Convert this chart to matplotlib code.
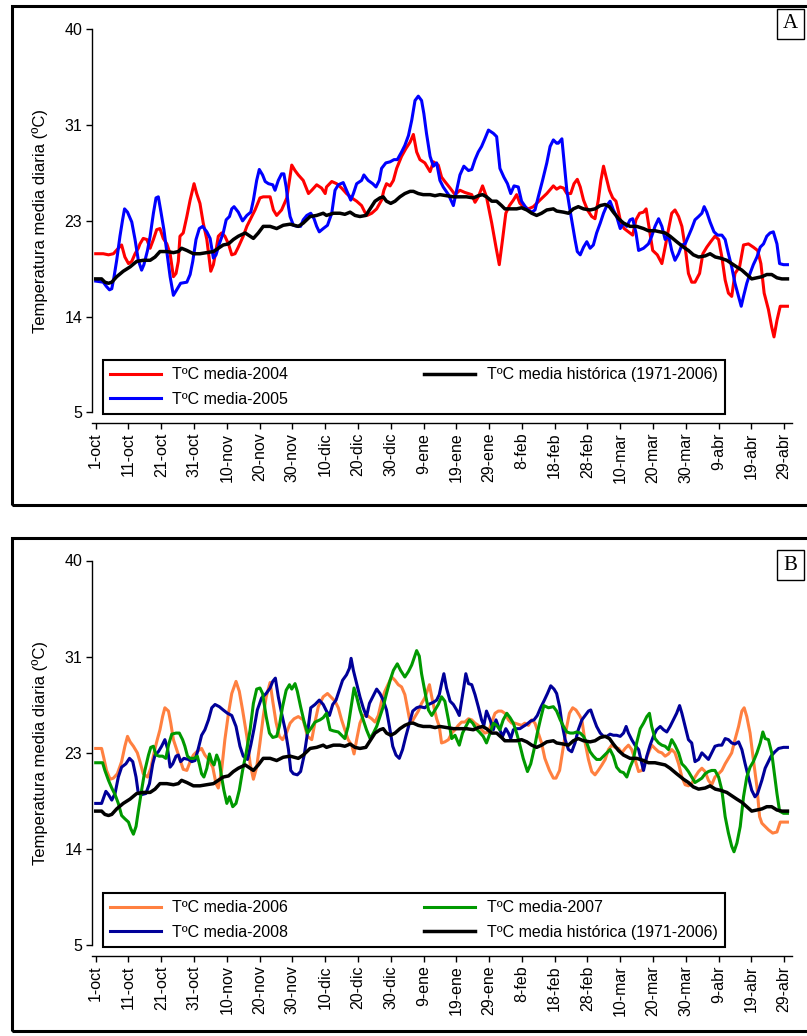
import numpy as np
import matplotlib.pyplot as plt
from matplotlib.patches import Rectangle

plt.rcParams['font.family'] = ['Liberation Sans', 'DejaVu Sans']

# dia 0 = 1-oct ... dia 210 = 29-abr
tick_dias = list(range(0, 211, 10))
tick_labels = ['1-oct', '11-oct', '21-oct', '31-oct', '10-nov', '20-nov', '30-nov',
               '10-dic', '20-dic', '30-dic', '9-ene', '19-ene', '29-ene', '8-feb',
               '18-feb', '28-feb', '10-mar', '20-mar', '30-mar', '9-abr', '19-abr', '29-abr']
ytick_vals = [5, 13.75, 22.5, 31.25, 40]
ytick_labels = ['5', '14', '23', '31', '40']

# media historica (1971-2006)
dias_hist = [0, 1.8, 2.8, 3.9, 4.9, 6.4, 8.4, 10.5, 12.5, 14.5, 16.6, 18.1, 19.6, 21.7, 23.7, 25.2, 26.2,
             27.8, 29.8, 31.8, 33.9, 35.9, 37.4, 38.9, 40.5, 42.0, 43.5, 45.6, 47.1, 48.1, 49.6, 51.1,
             53.2, 55.2, 57.2, 59.3, 61.8, 63.3, 65.4, 67.4, 69.4, 70.4, 72.5, 74.5, 76.0, 77.6, 79.1,
             80.6, 82.4, 83.7, 85.2, 86.7, 87.7, 88.7, 90.0, 91.3, 92.8, 94.3, 95.9, 96.9, 98.4, 99.9,
             102.0, 103.5, 105.0, 107.0, 109.1, 111.1, 113.1, 115.2, 116.7, 118.0, 119.2, 120.8, 122.3,
             123.8, 124.8, 126.4, 128.4, 129.9, 131.5, 133.0, 134.5, 136.0, 137.6, 139.6, 140.6, 142.7,
             144.2, 145.7, 147.2, 148.8, 150.8, 152.3, 153.9, 155.4, 156.7, 157.9, 159.5, 161.0, 163.0,
             165.0, 167.1, 168.6, 170.6, 172.2, 173.7, 175.2, 177.2, 179.3, 180.8, 182.3, 183.9, 185.9,
             187.4, 189.0, 190.5, 192.5, 194.0, 195.5, 197.1, 198.6, 200.1, 201.7, 203.2, 204.7, 206.2,
             207.8, 209.3, 211.0]
temp_hist = [17.2, 17.2, 16.9, 16.8, 16.9, 17.4, 17.9, 18.3, 18.8, 18.9, 18.9, 19.2, 19.7, 19.7, 19.6, 19.7, 20.0,
             19.8, 19.5, 19.5, 19.6, 19.7, 20.0, 20.3, 20.4, 20.8, 21.1, 21.4, 21.1, 20.9, 21.4, 22.0,
             22.0, 21.8, 22.1, 22.2, 22.0, 22.3, 22.9, 23.0, 23.2, 23.0, 23.2, 23.2, 23.1, 23.3, 23.0,
             22.9, 23.0, 23.6, 24.3, 24.6, 24.7, 24.3, 24.1, 24.3, 24.7, 25.0, 25.2, 25.2, 25.0, 24.9,
             24.9, 24.8, 24.9, 24.8, 24.7, 24.7, 24.7, 24.6, 24.8, 24.9, 24.7, 24.3, 24.3,
             23.9, 23.6, 23.6, 23.6, 23.7, 23.5, 23.2, 23.0, 23.2, 23.5, 23.6, 23.4, 23.3,
             23.2, 23.6, 23.8, 23.6, 23.5, 23.6, 23.9, 24.0, 23.8, 23.3, 22.7, 22.3, 22.0,
             22.0, 21.8, 21.6, 21.6, 21.5, 21.4, 21.1, 20.6, 20.1, 19.8, 19.4, 19.2, 19.3,
             19.5, 19.2, 19.1, 18.9, 18.6, 18.3, 18.0, 17.6, 17.2, 17.3, 17.4, 17.6, 17.6,
             17.3, 17.2, 17.2]

dias_2004 = [0, 2.3, 3.9, 5.4, 6.9, 7.9, 8.9, 10.0, 11.0, 12.0, 13.0, 13.5, 14.5, 15.6, 16.6, 17.6, 18.6,
             19.6, 20.6, 21.7, 22.7, 23.7, 24.5, 25.2, 25.7, 26.7, 27.8, 28.8, 30.0, 30.8, 31.8, 32.8,
             33.9, 35.1, 35.9, 36.7, 37.4, 38.4, 39.4, 40.5, 41.5, 42.5, 43.5, 45.0, 46.1, 47.1, 48.6,
             50.1, 51.1, 53.2, 54.2, 55.2, 56.7, 58.3, 59.1, 59.8, 60.8, 61.8, 63.3, 64.9, 65.9, 67.4,
             68.9, 70.0, 70.4, 72.0, 73.5, 75.0, 76.5, 78.1, 79.6, 81.1, 82.1, 82.8, 84.2, 85.7, 87.2,
             87.9, 88.7, 89.8, 90.8, 91.8, 93.3, 94.6, 95.9, 96.9, 97.9, 98.9, 100.4, 102.0, 103.0,
             104.5, 105.5, 106.5, 108.1, 109.6, 111.1, 112.6, 113.7, 114.7, 115.7, 116.7, 118.0, 119.2,
             120.8, 122.1, 123.1, 124.1, 125.1, 126.2, 127.4, 128.4, 129.4, 130.6, 132.0, 133.5, 135.5,
             137.6, 139.6, 140.6, 141.7, 142.7, 143.7, 144.9, 145.9, 146.9, 147.8, 148.8, 150.0, 151.3,
             152.3, 153.3, 154.1, 154.9, 155.7, 156.7, 157.7, 158.7, 159.5, 160.2, 161.2, 162.5, 163.8,
             164.8, 165.9, 167.1, 167.9, 168.9, 169.9, 171.3, 172.7, 173.7, 174.7, 175.7, 176.7, 177.8,
             178.8, 179.8, 180.8, 181.8, 182.8, 184.2, 185.2, 186.4, 187.6, 188.9, 190.0, 191.0, 192.0,
             193.0, 194.0, 195.0, 196.4, 197.6, 199.1, 200.6, 201.9, 202.9, 203.9, 205.2, 206.2, 206.9,
             207.8, 208.8, 209.8, 211.0]
temp_2004 = [19.5, 19.5, 19.4, 19.5, 20.0, 20.3, 19.2, 18.6, 18.8, 19.5, 20.0, 20.4, 20.9, 20.8, 20.0, 20.8, 21.7,
             21.8, 20.9, 20.4, 19.5, 17.4, 17.7, 18.8, 21.1, 21.4, 22.9, 24.4, 25.9, 25.0, 24.1, 22.3,
             20.8, 17.9, 18.5, 19.8, 21.1, 21.4, 21.1, 20.4, 19.4, 19.5, 20.1, 21.1, 22.0, 22.6, 23.5,
             24.6, 24.7, 24.7, 23.5, 23.0, 23.5, 24.6, 26.2, 27.6, 27.1, 26.7, 26.2, 25.0, 25.3, 25.8,
             25.5, 25.0, 25.6, 26.1, 25.9, 25.5, 25.0, 24.6, 24.3, 23.9, 23.3, 23.0, 23.2, 23.6, 24.4,
             25.3, 25.9, 25.7, 26.2, 27.3, 28.4, 29.1, 29.7, 30.4, 28.8, 28.1, 27.8, 27.0, 27.9,
             27.6, 26.5, 26.1, 25.5, 24.9, 25.3, 25.1, 25.0, 24.9, 24.2, 24.7, 25.7, 24.7,
             22.3, 20.1, 18.5, 20.8, 23.2, 23.9, 24.4, 24.9, 24.1, 23.8, 23.6, 23.8, 24.4,
             25.0, 25.7, 25.4, 25.6, 25.5, 25.0, 25.0, 25.9, 26.3, 25.6, 24.4, 23.5, 22.9,
             22.7, 24.4, 26.2, 27.5, 26.5, 25.3, 24.6, 24.3, 23.3, 22.3, 21.8, 21.5, 21.2,
             22.6, 23.2, 23.3, 23.6, 21.7, 19.8, 19.4, 18.6, 20.1, 21.7, 23.2, 23.5, 22.9,
             22.0, 20.1, 17.7, 16.9, 16.9, 17.7, 19.5, 20.1, 20.6, 21.1, 20.8, 19.2, 17.1,
             15.9, 15.6, 17.7, 18.3, 20.3, 20.4, 20.1, 19.8, 18.6, 15.9, 14.4, 12.8, 11.9,
             13.4, 14.7, 14.7, 14.7]

dias_2005 = [0, 2.3, 3.3, 4.2, 4.9, 5.6, 6.4, 7.4, 8.2, 8.8, 9.7, 11.0, 12.0, 13.0, 14.0, 14.7, 15.8, 16.6,
             17.6, 18.4, 19.1, 19.8, 20.8, 21.9, 22.7, 23.7, 24.7, 25.9, 27.8, 28.8, 29.6, 30.6, 31.6,
             32.6, 33.9, 34.9, 35.9, 36.7, 37.7, 38.9, 39.8, 40.8, 41.5, 42.2, 43.5, 44.8, 46.1, 47.3,
             48.1, 49.1, 49.9, 50.9, 51.7, 52.7, 54.0, 54.7, 55.7, 56.7, 57.4, 58.1, 58.8, 59.3, 60.3,
             61.5, 62.5, 63.3, 64.4, 65.6, 66.6, 67.4, 68.2, 69.4, 70.7, 72.0, 73.0, 74.0, 75.5, 76.5,
             77.8, 78.6, 79.6, 81.1, 81.8, 83.1, 84.5, 85.5, 86.5, 87.2, 88.5, 89.8, 91.0, 92.0, 93.3,
             94.3, 95.4, 96.4, 97.4, 98.4, 99.4, 100.1, 100.9, 102.0, 103.0, 104.0, 105.0, 106.0, 107.6,
             109.1, 110.1, 111.1, 112.3, 113.7, 114.7, 115.7, 116.7, 117.7, 118.7, 119.8, 121.3, 122.3,
             123.3, 124.5, 125.6, 126.6, 127.6, 128.9, 129.9, 131.5, 133.0, 134.0, 135.0, 136.3, 137.6,
             138.6, 139.6, 140.6, 141.1, 142.2, 142.9, 143.7, 144.5, 145.5, 146.2, 146.9, 147.8, 148.8,
             149.8, 150.8, 151.8, 152.8, 153.9, 154.9, 155.9, 156.9, 157.9, 158.9, 160.0, 161.0, 162.0,
             163.0, 163.8, 164.8, 165.6, 167.1, 168.6, 169.6, 170.6, 171.7, 172.7, 173.7, 174.7, 175.7,
             176.7, 177.8, 178.8, 179.8, 180.8, 181.8, 182.8, 183.9, 184.9, 185.6, 186.4, 187.4, 188.6,
             189.7, 191.0, 192.0, 193.0, 194.0, 195.0, 196.1, 196.9, 197.6, 198.6, 199.6, 200.6, 201.7,
             202.7, 203.7, 204.7, 205.7, 206.7, 207.8, 208.6, 209.8, 211.0]
temp_2005 = [17.0, 16.9, 16.5, 16.2, 16.3, 17.4, 18.9, 21.1, 22.6, 23.6, 23.3, 22.4, 20.8, 18.9, 18.0, 18.5, 19.8, 21.1,
             23.2, 24.6, 24.7, 23.5, 21.7, 19.2, 17.4, 15.7, 16.2, 16.8, 16.9, 17.6, 18.8, 20.8, 21.8,
             22.0, 21.5, 20.9, 19.1, 19.4, 20.4, 21.4, 22.6, 22.9, 23.6, 23.8, 23.3, 22.5, 23.0, 23.3,
             24.4, 26.2, 27.2, 26.7, 26.1, 25.9, 25.8, 25.3, 26.2, 26.8, 26.8, 25.6, 23.8, 22.9, 22.1,
             22.0, 22.0, 22.6, 23.0, 23.2, 22.7, 22.0, 21.5, 21.8, 22.1, 23.2, 25.3, 25.8, 26.0, 25.3,
             24.4, 25.0, 25.9, 26.2, 26.7, 26.2, 25.9, 25.6, 26.2, 27.3, 27.8, 27.9, 28.1, 28.1, 28.8,
             29.4, 30.3, 31.7, 33.5, 33.9, 33.5, 32.3, 30.5, 28.4, 27.5, 27.8, 26.2, 25.6, 24.9,
             23.9, 25.3, 26.7, 27.5, 27.1, 27.2, 28.1, 28.8, 29.3, 30.0, 30.8, 30.5, 30.2,
             27.3, 26.5, 25.9, 25.0, 25.7, 25.6, 24.3, 23.6, 23.3, 23.5, 24.7, 26.2, 27.8,
             29.3, 29.9, 29.6, 29.6, 30.0, 27.8, 25.3, 23.8, 22.0, 20.8, 19.7, 19.4, 20.1,
             20.6, 20.0, 20.3, 21.4, 22.3, 23.2, 23.9, 24.3, 23.5, 22.9, 21.8, 22.3, 22.0,
             22.6, 22.7, 21.4, 19.8, 20.0, 20.4, 21.1, 22.0, 22.7, 22.0, 20.8, 21.2, 19.8,
             18.9, 19.5, 20.3, 20.4, 21.1, 21.8, 22.6, 22.9, 23.2, 23.8, 23.3, 22.4, 21.5,
             21.2, 21.2, 20.8, 19.5, 18.3, 16.8, 15.6, 14.7, 15.6, 16.8, 17.7, 18.5, 19.2,
             20.1, 20.4, 21.1, 21.4, 21.5, 20.4, 18.6, 18.5, 18.5]

dias_2006 = [0, 1.8, 2.5, 3.3, 4.4, 5.4, 6.6, 7.9, 8.9, 9.7, 10.5, 11.5, 12.7, 13.5, 14.5, 15.8, 16.8, 17.8,
             18.6, 19.6, 20.4, 21.1, 22.2, 22.9, 23.7, 24.7, 25.7, 26.7, 27.8, 28.8, 29.8, 30.8, 32.3,
             33.3, 34.4, 35.7, 36.7, 37.4, 38.4, 39.4, 40.5, 41.5, 42.8, 43.8, 44.8, 46.1, 47.1, 48.1,
             49.1, 50.1, 51.1, 52.0, 53.2, 54.0, 55.0, 56.0, 57.0, 58.3, 59.3, 60.5, 61.8, 63.3, 64.6,
             65.9, 66.9, 67.9, 69.4, 70.7, 72.0, 73.0, 74.0, 75.0, 76.0, 77.0, 78.1, 78.8, 79.6, 80.6,
             81.6, 82.8, 84.2, 85.2, 86.2, 87.2, 88.2, 89.3, 90.3, 91.3, 92.3, 93.3, 94.3, 95.0, 95.7,
             96.4, 97.4, 98.4, 99.4, 100.4, 101.1, 101.8, 102.5, 103.2, 104.0, 104.8, 105.5, 106.5,
             107.6, 108.6, 109.6, 110.6, 111.6, 112.6, 113.7, 114.7, 115.7, 116.7, 117.7, 118.7, 119.8,
             120.8, 121.8, 122.8, 123.8, 124.8, 125.9, 126.9, 127.9, 128.9, 129.9, 130.9, 132.0, 133.0,
             134.0, 135.0, 136.0, 137.0, 138.4, 139.6, 140.4, 141.5, 142.5, 143.5, 144.5, 145.5, 146.5,
             147.6, 148.3, 149.3, 150.3, 151.3, 152.3, 153.3, 154.4, 155.4, 156.4, 157.4, 158.4, 159.5,
             160.5, 161.5, 162.5, 163.5, 164.5, 165.6, 166.6, 167.6, 168.6, 169.6, 170.6, 171.7, 172.7,
             173.7, 174.7, 175.7, 176.7, 177.8, 178.8, 179.8, 180.8, 181.8, 182.8, 183.9, 184.9, 185.9,
             186.9, 187.9, 188.9, 190.0, 191.0, 192.0, 193.0, 194.0, 195.0, 196.1, 197.1, 197.8, 198.6,
             199.6, 200.6, 201.7, 202.5, 203.2, 204.2, 205.2, 206.5, 207.8, 208.8, 209.8, 211.0]
temp_2006 = [22.9, 22.9, 22.0, 20.9, 20.1, 20.2, 20.6, 21.7, 23.1, 24.0, 23.5, 23.1, 22.5, 21.7, 20.6, 20.3, 21.1, 22.5,
             23.5, 24.6, 25.8, 26.6, 26.3, 25.2, 23.7, 22.8, 21.9, 21.0, 20.9, 21.7, 22.3, 22.6, 22.9,
             22.3, 21.9, 21.2, 19.7, 19.3, 20.9, 23.7, 26.1, 27.9, 29.0, 28.1, 26.4, 24.0, 21.5, 20.1,
             21.2, 23.4, 25.8, 27.6, 28.9, 27.2, 25.3, 24.0, 23.7, 24.4, 25.2, 25.6, 25.8, 25.5, 24.0,
             23.7, 25.3, 26.7, 27.6, 27.9, 27.5, 27.2, 26.6, 25.5, 24.6, 23.7, 23.2, 22.4, 23.7, 25.2,
             25.9, 25.9, 25.6, 25.3, 25.9, 27.2, 28.1, 28.8, 29.4, 29.1, 28.7, 28.5, 27.8, 26.7, 25.6,
             25.3, 25.8, 26.3, 27.0, 27.5, 28.1, 28.7, 27.6, 26.6, 25.6, 24.9, 23.4, 23.5,
             23.7, 24.3, 24.6, 25.0, 25.3, 25.3, 25.6, 25.5, 25.2, 25.0, 24.6, 24.3, 24.4,
             25.3, 26.1, 26.3, 26.3, 26.1, 25.5, 25.2, 25.2, 25.1, 25.0, 25.2, 25.0, 25.5,
             25.2, 24.3, 23.4, 22.0, 20.9, 20.2, 20.2, 20.9, 22.8, 24.6, 26.1, 26.6, 26.4,
             25.9, 25.5, 23.4, 21.9, 20.8, 20.5, 20.9, 21.4, 21.9, 22.8, 23.2, 23.0, 22.9,
             22.5, 22.9, 23.2, 22.8, 21.9, 20.8, 20.9, 21.7, 22.5, 23.2, 22.9, 22.6, 22.5,
             22.2, 22.4, 22.8, 22.5, 21.5, 20.3, 19.6, 19.5, 19.7, 20.3, 20.8, 21.1, 20.8,
             20.0, 19.6, 20.3, 20.6, 20.9, 21.5, 22.0, 22.5, 23.7, 24.9, 26.3, 26.6, 25.8,
             24.3, 21.9, 19.4, 16.7, 16.1, 15.8, 15.5, 15.2, 15.3, 16.2, 16.2, 16.2]

dias_2007 = [0, 2.1, 2.8, 3.9, 4.9, 5.9, 6.9, 7.9, 8.9, 10.0, 10.7, 11.5, 12.3, 13.0, 14.0, 15.0, 16.1, 16.8,
             17.6, 18.4, 19.4, 20.4, 21.4, 22.2, 23.2, 24.5, 25.5, 26.5, 27.2, 28.0, 28.8, 30.0, 31.0,
             31.6, 32.3, 33.0, 33.9, 34.7, 35.4, 36.1, 36.9, 37.7, 38.4, 39.1, 40.0, 40.8, 41.8, 42.8,
             43.8, 44.8, 45.9, 47.1, 48.1, 49.1, 50.1, 50.9, 52.0, 53.0, 54.0, 55.2, 56.0, 57.0, 58.1,
             59.1, 59.8, 60.8, 61.5, 62.5, 63.6, 64.6, 65.6, 66.9, 68.4, 69.4, 70.4, 71.5, 72.5, 74.0,
             75.0, 76.0, 77.0, 78.1, 78.8, 79.6, 80.6, 81.6, 82.6, 83.7, 84.7, 85.7, 86.7, 87.7, 88.7,
             89.8, 90.8, 92.0, 93.0, 94.3, 95.4, 96.4, 97.1, 97.9, 98.7, 99.4, 100.4, 101.5, 102.5,
             103.5, 104.5, 105.5, 106.5, 107.6, 108.6, 109.6, 110.9, 111.9, 112.9, 114.0, 115.0, 116.0,
             117.0, 118.2, 119.2, 120.3, 121.3, 122.3, 123.3, 124.3, 125.4, 126.4, 127.4, 128.4, 129.4,
             130.4, 131.7, 132.7, 133.7, 134.7, 135.7, 136.7, 138.1, 139.6, 140.6, 141.7, 142.7, 143.7,
             144.7, 145.7, 146.7, 147.8, 148.8, 149.8, 150.8, 151.8, 152.8, 153.9, 154.9, 155.9, 156.9,
             157.9, 158.9, 160.0, 161.0, 162.0, 163.0, 164.0, 165.0, 166.1, 167.1, 168.1, 168.9, 169.6,
             170.6, 171.7, 172.7, 173.7, 174.7, 175.7, 176.7, 177.8, 178.8, 179.8, 180.8, 181.8, 182.8,
             183.9, 184.9, 185.9, 186.9, 187.9, 188.9, 190.0, 191.0, 192.0, 193.0, 194.0, 194.7, 195.6,
             196.6, 197.6, 198.6, 199.6, 200.6, 201.7, 202.7, 203.5, 204.2, 205.2, 206.2, 206.9, 207.8,
             208.6, 209.8, 211.0]
temp_2007 = [21.6, 21.6, 20.9, 20.0, 19.3, 18.7, 17.9, 16.8, 16.5, 16.2, 15.6, 15.1, 15.8, 17.2, 19.1, 20.9, 22.3, 23.0,
             23.1, 22.3, 22.2, 22.2, 22.0, 23.2, 24.2, 24.3, 24.3, 23.7, 23.1, 22.2, 22.0, 22.0, 22.2,
             21.5, 20.6, 20.3, 21.1, 22.4, 21.7, 21.4, 22.3, 21.7, 20.3, 19.1, 17.9, 18.5, 17.6, 17.9,
             19.1, 20.9, 22.5, 24.6, 27.0, 28.3, 28.4, 27.9, 25.8, 24.3, 23.9, 24.0, 24.9, 26.7, 28.2,
             28.7, 28.3, 28.8, 28.1, 26.7, 25.3, 24.3, 24.7, 25.3, 25.5, 25.7, 26.1, 24.6, 24.5, 24.4,
             24.1, 23.8, 24.9, 27.0, 28.4, 27.6, 26.4, 25.5, 24.6, 23.8, 24.3, 24.9, 25.8, 26.7, 27.9,
             29.1, 30.0, 30.6, 30.0, 29.4, 29.9, 30.5, 31.1, 31.8, 31.3, 29.7, 28.1, 26.4, 25.9,
             26.4, 26.9, 27.6, 27.2, 25.5, 23.8, 24.1, 23.2, 24.3, 24.9, 25.5, 25.2, 24.7,
             24.4, 24.0, 23.4, 24.3, 25.2, 25.0, 24.6, 25.5, 26.1, 25.7, 25.2, 24.3, 23.2,
             22.0, 20.8, 21.5, 22.8, 24.3, 25.6, 26.8, 26.6, 26.7, 26.3, 25.5, 24.9, 24.4,
             24.3, 24.3, 24.4, 24.3, 24.0, 23.4, 22.6, 22.2, 21.9, 21.9, 22.2, 22.5, 22.8,
             22.2, 21.2, 20.8, 20.7, 20.3, 21.2, 21.9, 23.4, 24.7, 25.2, 25.8, 26.1, 24.9,
             23.8, 23.4, 23.2, 23.1, 22.8, 23.7, 23.2, 22.5, 21.5, 21.2, 20.8, 20.3, 19.8,
             20.0, 20.2, 20.6, 20.8, 20.9, 20.9, 20.3, 19.1, 16.7, 15.2, 14.0, 13.5, 14.3,
             15.8, 18.5, 20.3, 21.2, 21.7, 22.5, 23.4, 24.4, 23.8, 23.7, 22.5, 20.9, 18.8,
             17.2, 17.0, 17.0]

dias_2008 = [0, 1.8, 2.5, 3.1, 3.9, 4.9, 5.9, 6.9, 7.9, 9.2, 10.3, 11.3, 12.3, 13.0, 14.0, 15.3, 16.4, 17.4,
             18.1, 19.1, 20.1, 21.1, 21.9, 22.7, 23.5, 24.5, 25.2, 25.9, 26.9, 28.3, 29.3, 30.3, 31.3,
             32.3, 33.3, 34.4, 35.4, 36.4, 37.7, 38.9, 40.2, 41.5, 42.8, 44.0, 45.0, 46.3, 47.3, 48.3,
             49.3, 50.6, 52.0, 53.2, 54.0, 54.8, 55.7, 56.7, 57.8, 58.8, 59.5, 60.3, 61.5, 62.5, 63.6,
             64.6, 65.6, 66.9, 68.2, 69.4, 70.4, 71.3, 72.3, 73.3, 74.3, 75.3, 76.5, 77.4, 77.9, 78.6,
             79.6, 80.6, 81.6, 82.6, 83.5, 84.5, 85.7, 86.7, 87.7, 88.7, 89.6, 90.6, 91.6, 92.6, 93.6,
             94.6, 95.7, 96.7, 97.9, 98.9, 100.4, 101.5, 103.0, 104.0, 104.8, 105.5, 106.2, 107.0, 108.1,
             109.1, 110.1, 110.9, 111.6, 112.3, 112.9, 113.7, 114.7, 115.7, 116.7, 117.7, 118.4, 119.2,
             120.3, 121.3, 122.1, 123.1, 124.1, 125.1, 125.9, 126.6, 127.4, 128.4, 129.4, 130.4, 131.5,
             132.7, 133.7, 134.7, 135.7, 136.7, 137.8, 138.8, 139.8, 140.6, 141.5, 142.2, 143.2, 144.2,
             145.2, 146.2, 147.2, 148.3, 149.3, 150.3, 151.0, 151.8, 152.8, 153.9, 154.9, 155.9, 156.9,
             157.9, 158.9, 160.0, 161.0, 161.8, 162.5, 163.5, 164.5, 165.6, 166.6, 167.1, 168.1, 169.1,
             170.1, 171.1, 172.2, 173.2, 174.2, 175.2, 176.2, 177.2, 178.1, 178.8, 179.8, 180.8, 181.8,
             182.8, 183.9, 184.9, 185.9, 186.9, 187.9, 188.9, 190.0, 191.0, 192.0, 193.0, 194.0, 195.0,
             196.1, 197.1, 198.1, 199.1, 200.1, 201.1, 201.9, 203.2, 204.2, 205.2, 206.0, 207.2, 208.3,
             209.8, 211.0]
temp_2008 = [17.9, 17.9, 18.5, 19.0, 18.7, 18.2, 18.8, 20.3, 21.2, 21.5, 22.0, 21.7, 20.3, 18.8, 18.7, 18.8, 19.7, 21.5,
             22.3, 22.6, 23.1, 23.7, 22.9, 21.2, 21.5, 22.2, 22.3, 21.7, 22.0, 21.9, 21.7, 21.8, 22.9,
             24.1, 24.6, 25.5, 26.6, 26.9, 26.7, 26.4, 26.1, 25.9, 24.9, 23.1, 22.2, 21.9, 23.2, 24.7,
             26.4, 27.5, 27.9, 28.4, 29.0, 29.3, 27.6, 26.1, 24.6, 22.8, 20.9, 20.6, 20.5, 20.8, 22.3,
             24.3, 26.6, 26.9, 27.3, 26.9, 26.3, 25.9, 26.9, 27.3, 28.2, 29.1, 29.6, 30.2, 31.1, 30.0,
             28.8, 27.6, 26.6, 25.8, 27.0, 27.6, 28.3, 27.9, 27.3, 26.4, 24.9, 23.1, 22.3, 22.0, 22.8,
             24.0, 25.2, 26.3, 26.6, 26.7, 26.6, 26.9, 27.1, 27.3, 27.8, 28.8, 29.7, 28.4, 27.2,
             26.9, 26.4, 25.9, 27.2, 28.5, 29.7, 28.8, 28.7, 27.8, 26.7, 25.5, 25.0, 26.3,
             25.5, 24.6, 25.5, 24.7, 24.0, 24.7, 24.3, 23.8, 24.6, 24.7, 24.7, 24.9, 25.1,
             25.4, 25.5, 25.9, 26.6, 27.2, 27.9, 28.6, 28.3, 27.9, 26.7, 25.2, 23.7, 22.8,
             22.6, 23.4, 24.6, 25.5, 25.9, 26.3, 26.4, 25.7, 24.9, 24.3, 24.0, 24.0, 24.2,
             24.1, 24.1, 24.0, 24.3, 24.9, 24.3, 23.7, 23.2, 22.8, 21.5, 20.9, 22.2, 23.2,
             24.0, 24.6, 24.9, 24.6, 24.4, 24.9, 25.5, 26.1, 26.8, 26.1, 24.9, 23.7, 23.4,
             21.7, 21.9, 22.5, 22.2, 21.9, 22.5, 23.1, 23.2, 23.2, 23.8, 23.7, 23.4, 23.3,
             23.5, 22.8, 21.5, 20.3, 19.1, 18.5, 18.8, 20.0, 21.1, 21.7, 22.2, 22.6, 22.9,
             23.0, 23.0]

W, H = 807, 1036
fig = plt.figure(figsize=(W / 100, H / 100), dpi=100)


def caja(x0, y0, x1, y1, lw):
    fig.add_artist(Rectangle((x0 / W, 1 - y1 / H), (x1 - x0) / W, (y1 - y0) / H,
                             transform=fig.transFigure, fill=False, ec='black', lw=lw))


def panel(top, bottom, series, legend_top, letra, letra_y):
    ax = fig.add_axes([92 / W, 1 - bottom / H, 699.7 / W, (bottom - top) / H])
    for d, t, c, lab in series:
        ax.plot(d, t, color=c, lw=2.2, label=lab)
    ax.plot(dias_hist, temp_hist, color='black', lw=2.5, label='TºC media histórica (1971-2006)')
    ax.set_ylim(5, 40)
    ax.set_xlim(-1.13, 212.3)
    ax.set_yticks(ytick_vals)
    ax.set_yticklabels(ytick_labels)
    ax.set_xticks(tick_dias)
    ax.set_xticklabels(tick_labels)
    ax.tick_params(direction='out', length=4, width=1, labelsize=11.5, pad=3)
    ax.tick_params(axis='x', labelrotation=90)
    for s in ['top', 'right']:
        ax.spines[s].set_visible(False)
    ax.spines['left'].set_linewidth(1)
    ax.spines['bottom'].set_linewidth(1)
    ax.spines['bottom'].set_position(('outward', 7.6))
    ax.set_ylabel('Temperatura media diaria (ºC)', fontsize=12)
    ax.yaxis.set_label_coords(-0.063, 0.5)
    h, l = ax.get_legend_handles_labels()
    leg = ax.legend(h, l, ncol=2, loc='upper left', bbox_to_anchor=(103 / W, 1 - legend_top / H),
                    bbox_transform=fig.transFigure, fontsize=11.5, handlelength=3.2,
                    handletextpad=0.7, columnspacing=8.5, labelspacing=0.6, borderpad=0.45,
                    borderaxespad=0, fancybox=False, framealpha=1)
    leg.get_frame().set_edgecolor('black')
    leg.get_frame().set_linewidth(1.5)
    caja(777, letra_y, 804, letra_y + 30, 1)
    fig.text(790.5 / W, 1 - (letra_y + 15) / H, letra, ha='center', va='center',
             fontsize=15, family='Liberation Serif')
    return ax


panel(29.4, 412.4,
      [(dias_2004, temp_2004, '#FF0000', 'TºC media-2004'),
       (dias_2005, temp_2005, '#0000FF', 'TºC media-2005')],
      360, 'A', 9)
panel(560.5, 945.2,
      [(dias_2006, temp_2006, '#FF8040', 'TºC media-2006'),
       (dias_2008, temp_2008, '#000099', 'TºC media-2008'),
       (dias_2007, temp_2007, '#009900', 'TºC media-2007')],
      893, 'B', 550)

caja(12, 6.5, 830, 505.5, 2.2)
caja(12, 538, 830, 1031, 2.2)

fig.savefig('out.png', dpi=100)
